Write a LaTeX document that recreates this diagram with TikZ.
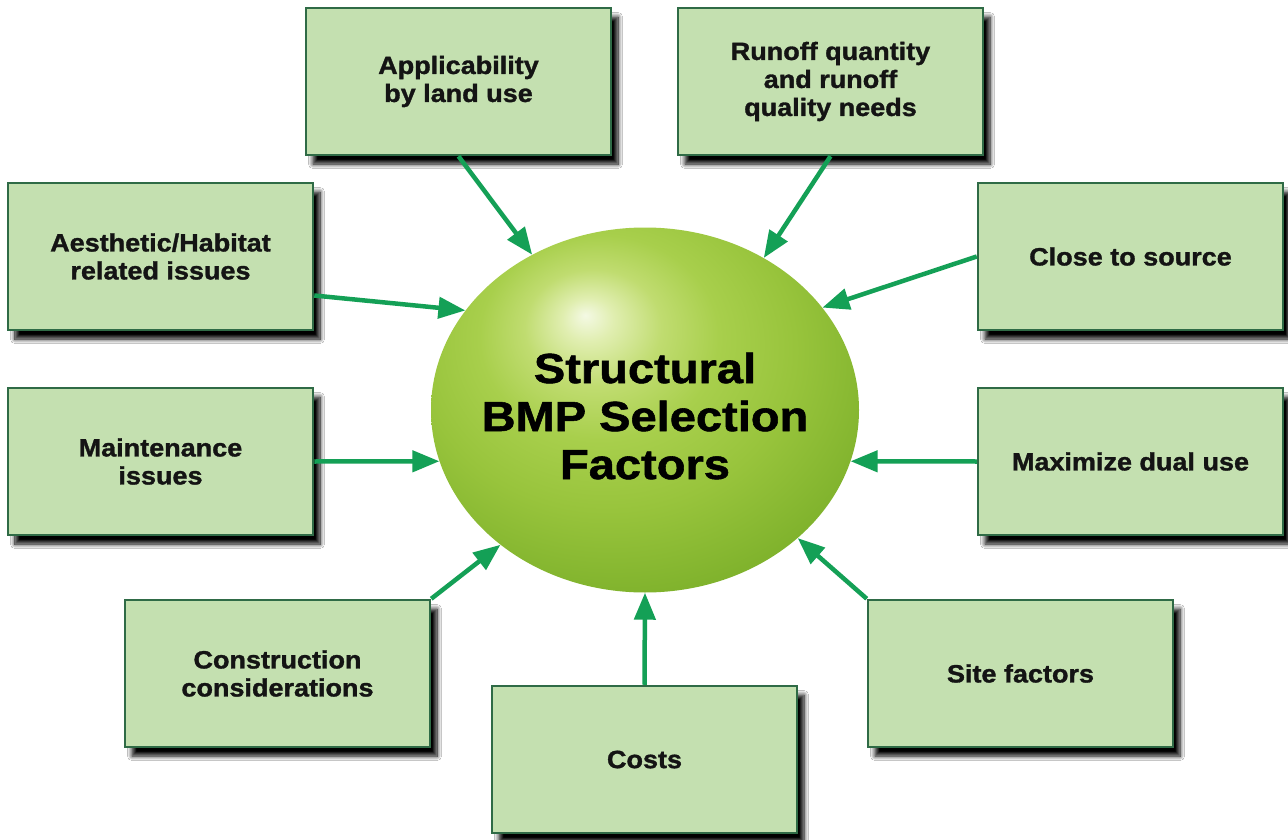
\documentclass[tikz,border=0pt]{standalone}
\usepackage{fontspec}
\setmainfont{Liberation Sans}
\newfontfamily\lblfont[FakeStretch=1.08,BoldFeatures={FakeBold=1.3}]{Liberation Sans}
\newfontfamily\hubfont[FakeStretch=1.12,BoldFeatures={FakeBold=1.3}]{Liberation Sans}
\usetikzlibrary{arrows.meta,shapes.geometric,shadows.blur}
\definecolor{boxfill}{HTML}{C4E0B0}
\definecolor{boxdraw}{HTML}{2F6B46}
\definecolor{arrowc}{HTML}{14A056}
\definecolor{ballA}{HTML}{F4F9E4}
\definecolor{ballB}{HTML}{E0EEB0}
\definecolor{ballC}{HTML}{C0DC70}
\definecolor{ballD}{HTML}{A8CF4C}
\definecolor{ballE}{HTML}{98C43C}
\definecolor{ballF}{HTML}{7FB22C}
\definecolor{ballG}{HTML}{5C961A}
\pgfdeclareradialshading{bmpball}{\pgfpoint{-7bp}{13bp}}{%
 color(0bp)=(ballA); color(3bp)=(ballB); color(8bp)=(ballC);
 color(14bp)=(ballD); color(22bp)=(ballE); color(32bp)=(ballF);
 color(40bp)=(ballG); color(60bp)=(ballG)}
\tikzset{
 factorbox/.style={draw=boxdraw, line width=2.5pt, fill=boxfill,
   minimum width=305pt, minimum height=147pt, inner sep=0pt, align=center,
   font=\lblfont\bfseries\fontsize{25}{28}\selectfont, text=black!92,
   blur shadow={shadow xshift=7pt, shadow yshift=-9pt, shadow blur radius=4.5pt,
     shadow blur steps=10, shadow opacity=100}},
 conn/.style={draw=arrowc, line width=4.5pt, -{Triangle[length=27pt,width=21pt]}},
 hub/.style={ellipse, minimum width=428pt, minimum height=365pt, inner sep=0pt,
   shade, shading=bmpball},
 hubtext/.style={align=center, font=\hubfont\bfseries\fontsize{42}{48}\selectfont, text=black}
}
\begin{document}
\begin{tikzpicture}[x=1pt,y=-1pt]
\fill[white] (0,0) rectangle (1288,840);
\useasboundingbox (0,0) rectangle (1288,840);

\node[hub, label={[hubtext, yshift=-6pt]center:Structural\\BMP Selection\\Factors}] (c) at (645,410) {};

\node[factorbox] (app) at (458.5,81.5) {Applicability\\by land use};
\node[factorbox] (run) at (830.5,81.5) {Runoff quantity\\and runoff\\quality needs};
\node[factorbox] (aes) at (160.5,256.5) {Aesthetic/Habitat\\related issues};
\node[factorbox] (cls) at (1130.5,256.5) {Close to source};
\node[factorbox] (mnt) at (160.5,461.5) {Maintenance\\issues};
\node[factorbox] (dual) at (1130.5,461.5) {Maximize dual use};
\node[factorbox] (con) at (277.5,673.5) {Construction\\considerations};
\node[factorbox] (site) at (1020.5,673.5) {Site factors};
\node[factorbox] (cost) at (644.5,759.5) {Costs};

\draw[conn] (app.south) -- (c.126);
\draw[conn] (run.south) -- (c.52.4);
\draw[conn] ([yshift=-39pt]aes.east) -- (c.151.8);
\draw[conn] (cls.west) -- (c.30);
\draw[conn] (mnt.east) -- (c.194);
\draw[conn] (dual.west) -- (c.-14);
\draw[conn] (con.north east) -- (c.223.5);
\draw[conn] (site.north west) -- (c.-40);
\draw[conn] (cost.north) -- (c.270);
\end{tikzpicture}
\end{document}
